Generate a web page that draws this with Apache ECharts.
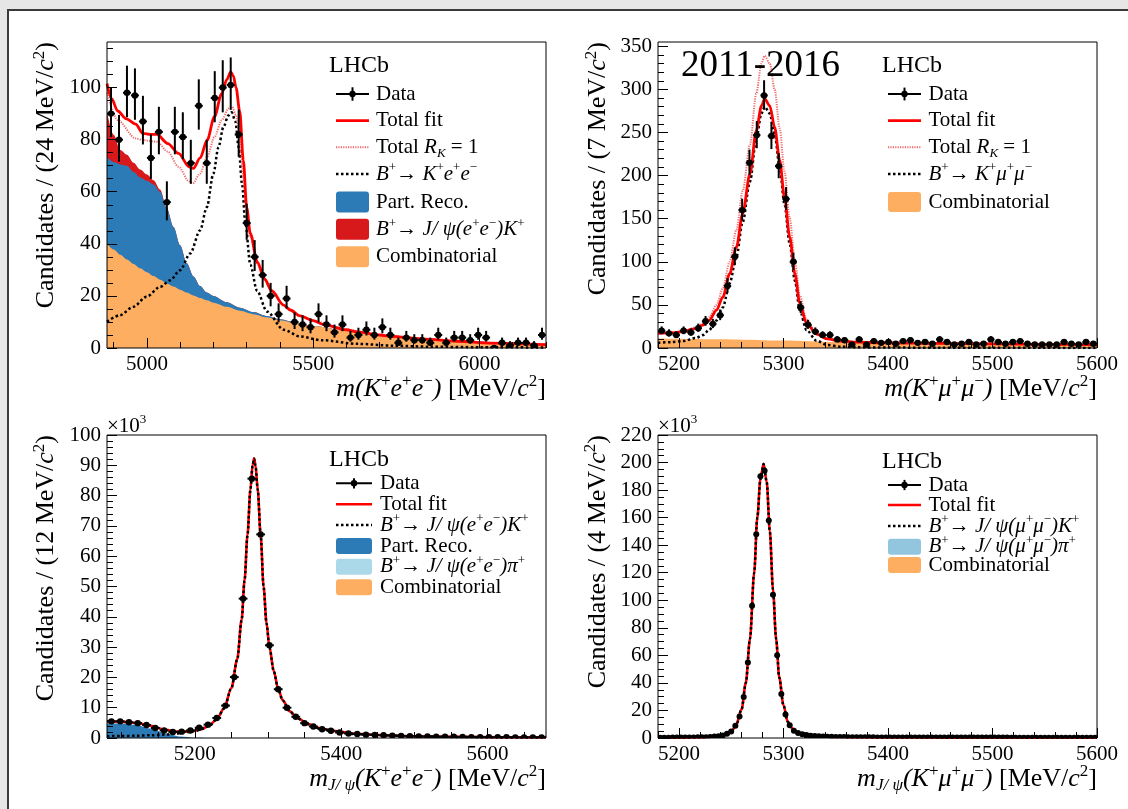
<!DOCTYPE html>
<html>
<head>
<meta charset="utf-8">
<script src="https://cdn.jsdelivr.net/npm/echarts@6.0.0/dist/echarts.min.js"></script>
<style>
  html, body { margin: 0; padding: 0; background: #e6e6e6; }
  #sheet { position: absolute; left: 7px; top: 9px; right: 0; bottom: 0; background: #fff;
           border-left: 2px solid #3a3a3a; border-top: 2px solid #3a3a3a; }
  #chart { position: absolute; left: 0; top: 0; width: 1128px; height: 809px; }
</style>
</head>
<body>
<div id="sheet"></div>
<div id="chart"></div>
<script>
// ---------------- B+ -> K+ e+ e-  (24 MeV bins starting at 4880) ----------------
const keeBinLo = 4880, keeBinW = 24;
const keeCounts = [90,80,98,97,87,73,83,56,83,81,71,93,71,96,100,101,82,48,35,28,
                   20,13,19,10,9,8,13,9,6,9,4,5,7,5,8,5,2,4,3,3,
                   2,5,2,4,4,3,5,4,0,2,1,2,2,1,5];
// background components, sampled on a common mass grid (stacked in drawing order)
const keeBkgMass = [4880,4900,4920,4940,4960,4980,5000,5020,5040,5060,5080,5100,5120,5140,5160,5180,
                    5200,5240,5280,5320,5360,5400,5450,5500,5600,5700,5800,5900,6000,6100,6200];
const keeComb    = [40,37.8,35.8,34,32.3,30.6,29.1,27.6,26.2,24.8,23.6,22.4,21.3,20.2,19.2,18.3,
                    17.4,15.8,14.3,13,11.8,10.7,9.5,8.4,6.6,5.1,4,3.1,2.4,1.8,1.4];
const keePartReco= [33.3,33.6,34.7,36,35.3,34.9,35.1,35.2,33.8,28.7,22.9,17.1,11.2,7.3,4.6,3.0,
                    2.6,1.8,1.2,0.8,0.5,0.3,0.1,0,0,0,0,0,0,0,0];
const keeJpsiLeak= [17.2,10.5,5.5,4.2,3.5,3.0,2.4,1.6,0.8,0.2,0,0,0,0,0,0,
                    0,0,0,0,0,0,0,0,0,0,0,0,0,0,0];
const keeFitMass = [4880,4894,4912,4938,4966,4988,5010,5030,5063,5095,5127,5140,5160,5181,5203,5225,5240,5252,5260,5268,
                    5279,5290,5300,5311,5332,5354,5375,5411,5431,5461,5500,5531,5600,5632,5700,5732,5833,5933,6034,6200];
const keeFit     = [101.5,95.7,91,88,86,82.4,82,82,78.5,74.7,69.6,69,73,79.8,88.8,97.7,103,106,104.5,100,
                    91,72,54,44,33,26.5,22,16.5,14.6,12.3,10.5,9.0,7.0,6.2,5.0,4.5,3.4,2.6,1.9,1.3];
const keeRk1Mass = [4880,4912,4966,4988,5030,5063,5095,5127,5138,5160,5181,5203,5225,5246,5256,5268,
                    5279,5290,5300,5311,5332,5354,5375,5411,5461,5500,5600,5700,5833,5933,6034,6200];
const keeRk1     = [98,87.5,80.5,79.8,79.2,75.4,69.6,63.9,63.2,67,73.4,81,87.5,92,92.6,89.4,
                    81,66,52,43,32,26,21.7,16.2,12.2,10.4,7.0,5.0,3.4,2.6,1.9,1.3];
const keeSigMass = [4880,4919,4959,4999,5040,5070,5100,5130,5160,5180,5200,5215,5230,5245,5255,
                    5266,5276,5286,5296,5311,5331,5361,5411,5461,5525,5633,5740,5848,6000,6200];
const keeSig     = [10.1,12.6,15.8,19.7,23.5,26,29.9,36.3,45.2,54,67,77,84.8,89.3,90.5,
                    87,77,63,48,32,22,14,7,4.4,3.0,1.6,0.9,0.5,0.3,0.2];

// ---------------- B+ -> K+ mu+ mu-  (7 MeV bins starting at 5180) ----------------
const kmmBinLo = 5180, kmmBinW = 7;
const kmmCounts = [20,17,15,20,18,23,31,28,38,72,106,160,215,247,293,246,211,173,100,47,
                   27,19,15,15,10,9,4,10,4,8,6,7,5,8,9,6,7,5,10,7,
                   4,5,7,4,5,10,7,5,7,8,5,4,4,4,4,7,5,4,7,5];
const kmmFitMass = [5180,5192,5204,5216,5223,5229,5236,5242,5248.5,5255,5261,5268,5274,5279,5282,5287,
                    5291.6,5296.4,5301,5306,5311,5315.6,5322,5331.6,5342,5355,5370,5400,5450,5500,5550,5600];
const kmmFit     = [17,17.5,19,22.5,26.5,32,44,59,86,117,156,202,252,281,289,281,
                    256,218,175,129,86,52,29,16.2,10.5,8,6.8,6.0,5.3,4.8,4.3,3.9];
const kmmRk1     = [17,17.6,19.5,24,28.5,36,50,69,100,137,182,236,295,330,339,330,
                    300,255,205,151,101,61,33,17.5,11,8.2,6.9,6.0,5.3,4.8,4.3,3.9];
const kmmSig     = [6,6.8,8,11.5,15,21,32,47,75,106,146,193,243,272,280,272,
                    248,210,167,121,78,44,21,8.5,3.5,1.5,0.8,0.5,0.3,0.2,0.15,0.1];
const kmmCombMass = [5180,5250,5300,5350,5400,5450,5500,5550,5600];
const kmmComb     = [11,10,8.7,7,5.5,5,4.6,4.2,3.8];

// ---------------- B+ -> J/psi(e+e-) K+  (12 MeV bins from 5080, in units of 10^3) ----------------
const jeeBinLo = 5080, jeeBinW = 12;
const jeeCounts = [5.5,5.5,5.2,4.9,4.3,3.3,2.5,2.0,2.1,2.5,3.4,4.4,6.6,10.7,20.1,46.0,85.6,67.2,30.6,16.1,
                   10.0,7.0,4.9,3.8,2.9,2.4,1.8,1.5,1.3,1.1,1.0,0.9,0.8,0.7,0.6,0.55,0.5,0.45,0.4,0.4,
                   0.35,0.3,0.3,0.3,0.25,0.25,0.2,0.2,0.2,0.2];
const jeeFitMass = [5080,5100,5120,5140,5160,5175,5190,5200,5210,5220,5230,5240,5250,5258,5264,5268,5272,5276,5279,5281,
                    5283,5286,5290,5294,5298,5302,5308,5314,5320,5330,5340,5355,5370,5390,5420,5460,5500,5560,5620,5680];
const jeeFit     = [5.5,5.4,5.0,4.0,2.7,2.1,2.1,2.4,3.0,4.2,6.2,9.8,16.5,26,39,52,67,82,90,92.3,
                    90,82,67,50,38,30,22,16.2,12.5,8.8,6.6,4.6,3.3,2.3,1.4,0.9,0.6,0.4,0.25,0.2];
const jeeSig     = [0.6,0.65,0.75,0.9,1.15,1.5,1.95,2.3,2.95,4.15,6.15,9.75,16.4,25.9,38.9,51.9,66.9,81.9,89.9,92.2,
                    89.9,81.9,66.9,49.9,37.9,29.9,21.9,16.1,12.4,8.7,6.5,4.5,3.2,2.2,1.3,0.85,0.55,0.35,0.2,0.15];
const jeePartRecoMass = [5080,5100,5120,5140,5160,5180,5200,5220];
const jeePartReco     = [4.9,4.8,4.3,3.1,1.5,0.5,0.1,0];

// ---------------- B+ -> J/psi(mu+mu-) K+  (4 MeV bins from 5180, in units of 10^3) ----------------
const jmmBinLo = 5180, jmmBinW = 4;
const jmmCounts = [0.2,0.2,0.2,0.3,0.3,0.3,0.3,0.4,0.4,0.5,
                   0.5,0.6,0.8,1.0,1.3,1.9,3.1,4.8,8.9,15.7,
                   29.7,54.8,96,148,190,194,158,104,60,32,
                   17,9.3,5.3,3.6,2.7,2.1,1.7,1.4,1.2,1.0,
                   0.9,0.9,0.8,0.7,0.7,0.6,0.6,0.5,0.5,0.5,
                   0.5,0.5,0.4,0.4,0.4,0.4,0.4,0.4,0.4,0.4,
                   0.3,0.3,0.3,0.3,0.3,0.3,0.3,0.3,0.3,0.3,
                   0.3,0.3,0.3,0.3,0.3,0.3,0.3,0.3,0.3,0.3,
                   0.3,0.3,0.3,0.3,0.2,0.2,0.2,0.2,0.2,0.2,
                   0.2,0.2,0.2,0.2,0.2,0.2,0.2,0.2,0.2,0.2,
                   0.2,0.2,0.2,0.2,0.2];
const jmmFitMass = [5180,5200,5220,5235,5245,5250,5255,5260,5264,5268,5272,5275,5278,5281,5284,
                    5287,5290,5293,5296,5300,5304,5308,5313,5320,5330,5345,5370,5420,5500,5600];
const jmmFit     = [0.2,0.3,0.55,1.1,2.6,4.5,10,21,40,72,120,160,188,199,186,
                    150,108,72,44,24,12,7.2,4.0,2.4,1.4,0.85,0.55,0.35,0.25,0.2];
const jmmSig     = [0.15,0.25,0.5,1.05,2.55,4.45,9.9,20.9,39.9,71.9,119.9,159.9,187.9,198.9,185.9,
                    149.9,107.9,71.9,43.9,23.9,11.9,7.1,3.9,2.3,1.3,0.8,0.5,0.3,0.2,0.15];

// ---------------- axis ticks ----------------
function range(a, b, s) { const r = []; for (let v = a; v <= b + 1e-9; v += s) r.push(+v.toFixed(6)); return r; }
const keeXMajor = [5000, 5500, 6000],            keeXMinor = range(4900, 6200, 100);
const keeYMajor = [0, 20, 40, 60, 80, 100],      keeYMinor = range(0, 115, 5);
const kmmXMajor = [5200, 5300, 5400, 5500, 5600], kmmXMinor = range(5180, 5600, 20);
const kmmYMajor = range(0, 350, 50),             kmmYMinor = range(0, 350, 10);
const jeeXMajor = [5200, 5400, 5600],            jeeXMinor = range(5100, 5650, 50);
const jeeYMajor = range(0, 100, 10),             jeeYMinor = range(0, 100, 2);
const jmmXMajor = [5200, 5300, 5400, 5500, 5600], jmmXMinor = range(5180, 5600, 20);
const jmmYMajor = range(0, 220, 20),             jmmYMinor = range(0, 220, 5);

// ---------------- styling ----------------
const F = '"Liberation Serif", "Times New Roman", serif';
const C_COMB = '#fdae61', C_PART = '#2c7bb6', C_LEAK = '#d7191c', C_PI_EE = '#abd9e9', C_PI_MM = '#92c5de';
const C_FIT = '#ff0000', C_RK = '#f06a6a';
const DOT = [2.5, 2.5];
const TITLE = 26;

const panels = [
  { grid: { left: 107, top: 42, width: 439, height: 306 }, x: [4880, 6200], y: [0, 117.5],
    xMaj: keeXMajor, xMin: keeXMinor, yMaj: keeYMajor, yMin: keeYMinor },
  { grid: { left: 658, top: 42, width: 439, height: 306 }, x: [5180, 5600], y: [0, 355],
    xMaj: kmmXMajor, xMin: kmmXMinor, yMaj: kmmYMajor, yMin: kmmYMinor },
  { grid: { left: 107, top: 435, width: 439, height: 303 }, x: [5080, 5680], y: [0, 100],
    xMaj: jeeXMajor, xMin: jeeXMinor, yMaj: jeeYMajor, yMin: jeeYMinor },
  { grid: { left: 658, top: 435, width: 439, height: 303 }, x: [5180, 5600], y: [0, 220],
    xMaj: jmmXMajor, xMin: jmmXMinor, yMaj: jmmYMajor, yMin: jmmYMinor }
];

const labelStyle = { color: '#000', fontFamily: F, fontSize: 21, formatter: v => String(v) };
const xAxes = [], yAxes = [];
panels.forEach((p, k) => {
  const common = { type: 'value', gridIndex: k, z: 6, axisLine: { show: false }, splitLine: { show: false } };
  xAxes.push(Object.assign({}, common, { position: 'bottom', min: p.x[0], max: p.x[1],
    axisTick: { show: true, inside: true, length: 10, lineStyle: { color: '#000', width: 1 }, customValues: p.xMaj },
    axisLabel: Object.assign({ show: true, margin: 6, customValues: p.xMaj }, labelStyle) }));
  xAxes.push(Object.assign({}, common, { position: 'bottom', min: p.x[0], max: p.x[1],
    axisTick: { show: true, inside: true, length: 6, lineStyle: { color: '#000', width: 1 }, customValues: p.xMin },
    axisLabel: { show: false } }));
  yAxes.push(Object.assign({}, common, { position: 'left', min: p.y[0], max: p.y[1],
    axisTick: { show: true, inside: true, length: 10, lineStyle: { color: '#000', width: 1 }, customValues: p.yMaj },
    axisLabel: Object.assign({ show: true, margin: 6, customValues: p.yMaj }, labelStyle) }));
  yAxes.push(Object.assign({}, common, { position: 'left', min: p.y[0], max: p.y[1],
    axisTick: { show: true, inside: true, length: 6, lineStyle: { color: '#000', width: 1 }, customValues: p.yMin },
    axisLabel: { show: false } }));
});

// ---------------- series helpers ----------------
function pairs(xs, ys) { return xs.map((x, i) => [x, ys[i]]); }
// running sum of several component arrays (for filled, stacked bands)
function cumulative(...parts) { return parts[0].map((_, i) => parts.reduce((s, p) => s + p[i], 0)); }

// binned points with Poisson error bars; scale converts axis units to event counts
function binned(lo, w, vals, scale) {
  return vals.map((v, i) => {
    const s = Math.sqrt(v * scale + 0.25);
    return [lo + w * (i + 0.5), v, v - (s - 0.5) / scale, v + (s + 0.5) / scale, w / 2];
  });
}

function curve(k, xs, ys, color, width, dash, z) {
  return { type: 'line', xAxisIndex: 2 * k, yAxisIndex: 2 * k, data: pairs(xs, ys), symbol: 'none',
           smooth: 0.3, smoothMonotone: 'x', silent: true, clip: true, z: z,
           lineStyle: { color: color, width: width, type: dash || 'solid' } };
}
function area(k, xs, ys, color, z) {
  return { type: 'line', xAxisIndex: 2 * k, yAxisIndex: 2 * k, data: pairs(xs, ys), symbol: 'none',
           smooth: 0.3, smoothMonotone: 'x', silent: true, clip: true, z: z,
           lineStyle: { width: 0, color: color }, areaStyle: { color: color, opacity: 1, origin: 'start' } };
}
function points(k, pts, r) {
  return { type: 'custom', xAxisIndex: 2 * k, yAxisIndex: 2 * k, data: pts, silent: true, clip: true, z: 9,
    renderItem: function (params, api) {
      const x = api.value(0), y = api.value(1), lo = api.value(2), hi = api.value(3), hw = api.value(4);
      const c = api.coord([x, y]), t = api.coord([x, hi]), b = api.coord([x, lo]);
      const l = api.coord([x - hw, y]), rr = api.coord([x + hw, y]);
      const st = { stroke: '#000', lineWidth: 2 };
      return { type: 'group', children: [
        { type: 'line', shape: { x1: c[0], y1: t[1], x2: c[0], y2: b[1] }, style: st },
        { type: 'line', shape: { x1: l[0], y1: c[1], x2: rr[0], y2: c[1] }, style: st },
        { type: 'circle', shape: { cx: c[0], cy: c[1], r: r }, style: { fill: '#000' } }
      ] };
    } };
}

const series = [
  // K+ e+ e-: bands drawn from the outermost (largest sum) inwards
  area(0, keeBkgMass, cumulative(keeComb, keePartReco, keeJpsiLeak), C_LEAK, 2),
  area(0, keeBkgMass, cumulative(keeComb, keePartReco), C_PART, 2),
  area(0, keeBkgMass, keeComb, C_COMB, 2),
  curve(0, keeSigMass, keeSig, '#000', 2.5, DOT, 3),
  curve(0, keeRk1Mass, keeRk1, C_RK, 2, [1.2, 1.2], 3),
  curve(0, keeFitMass, keeFit, C_FIT, 2.8, null, 4),
  points(0, binned(keeBinLo, keeBinW, keeCounts, 1), 3.2),
  // K+ mu+ mu-
  area(1, kmmCombMass, kmmComb, C_COMB, 2),
  curve(1, kmmFitMass, kmmSig, '#000', 2.5, DOT, 3),
  curve(1, kmmFitMass, kmmRk1, C_RK, 2, [1.2, 1.2], 3),
  curve(1, kmmFitMass, kmmFit, C_FIT, 2.8, null, 4),
  points(1, binned(kmmBinLo, kmmBinW, kmmCounts, 1), 3.2),
  // J/psi(e+e-) K+
  area(2, jeePartRecoMass, jeePartReco, C_PART, 2),
  curve(2, jeeFitMass, jeeFit, C_FIT, 2.6, null, 3),
  curve(2, jeeFitMass, jeeSig, '#000', 2.5, DOT, 4),
  points(2, binned(jeeBinLo, jeeBinW, jeeCounts, 1000), 3.2),
  // J/psi(mu+mu-) K+
  curve(3, jmmFitMass, jmmFit, C_FIT, 2.6, null, 3),
  curve(3, jmmFitMass, jmmSig, '#000', 2.5, DOT, 4),
  points(3, binned(jmmBinLo, jmmBinW, jmmCounts, 1000), 3.0)
];

// ---------------- text and legends ----------------
function richStyles(size) {
  const lh = Math.round(size * 1.2), small = Math.round(size * 0.64);
  return {
    r:    { fontFamily: F, fontSize: size, lineHeight: lh, fill: '#000' },
    i:    { fontFamily: F, fontSize: size, lineHeight: lh, fontStyle: 'italic', fill: '#000' },
    sup:  { fontFamily: F, fontSize: small, lineHeight: small, verticalAlign: 'top', fill: '#000' },
    sub:  { fontFamily: F, fontSize: small, lineHeight: small, verticalAlign: 'bottom', fontStyle: 'italic', fill: '#000' }
  };
}
function text(x, y, str, size, align, rotation) {
  return { type: 'text', x: x, y: y, rotation: rotation || 0, silent: true, z: 20,
    style: { text: str, rich: richStyles(size), fontFamily: F, fontSize: size, fill: '#000',
             align: align || 'left', textAlign: align || 'left', verticalAlign: 'middle', textVerticalAlign: 'middle' } };
}
function keyLine(x1, x2, y, color, width, dash) {
  return { type: 'line', silent: true, z: 20, shape: { x1: x1, y1: y, x2: x2, y2: y },
           style: { stroke: color, lineWidth: width, lineDash: dash || null } };
}
function keyBox(x1, x2, y, h, color) {
  return { type: 'rect', silent: true, z: 20, shape: { x: x1, y: y - h / 2, width: x2 - x1, height: h, r: 3 },
           style: { fill: color } };
}
function keyData(x1, x2, y, bar) {
  const cx = (x1 + x2) / 2;
  return [keyLine(x1, x2, y, '#000', 2),
          { type: 'line', silent: true, z: 20, shape: { x1: cx, y1: y - bar, x2: cx, y2: y + bar }, style: { stroke: '#000', lineWidth: 2 } },
          { type: 'circle', silent: true, z: 20, shape: { cx: cx, cy: y, r: 3.2 }, style: { fill: '#000' } }];
}
function legend(ix1, ix2, tx, rows, boxH, size) {
  const out = [];
  rows.forEach(row => {
    if (row.kind === 'data') out.push(...keyData(ix1, ix2, row.y, boxH * 0.32));
    else if (row.kind === 'line') out.push(keyLine(ix1, ix2, row.y, row.color, row.width, row.dash));
    else out.push(keyBox(ix1, ix2, row.y, boxH, row.color));
    out.push(text(tx, row.y, row.label, size));
  });
  return out;
}

const L_TOTRK = '{r|Total }{i|R}{sub|K}{r| = 1}';
const L_KEE   = '{i|B}{sup|+}{r|→ }{i|K}{sup|+}{i|e}{sup|+}{i|e}{sup|−}';
const L_KMM   = '{i|B}{sup|+}{r|→ }{i|K}{sup|+}{i|μ}{sup|+}{i|μ}{sup|−}';
const L_JEEK  = '{i|B}{sup|+}{r|→ }{i|J/ ψ(e}{sup|+}{i|e}{sup|−}{i|)K}{sup|+}';
const L_JEEPI = '{i|B}{sup|+}{r|→ }{i|J/ ψ(e}{sup|+}{i|e}{sup|−}{i|)π}{sup|+}';
const L_JMMK  = '{i|B}{sup|+}{r|→ }{i|J/ ψ(μ}{sup|+}{i|μ}{sup|−}{i|)K}{sup|+}';
const L_JMMPI = '{i|B}{sup|+}{r|→ }{i|J/ ψ(μ}{sup|+}{i|μ}{sup|−}{i|)π}{sup|+}';

const graphics = [].concat(
  // panel titles and axis names
  text(329, 66, 'LHCb', 24), text(882, 66, 'LHCb', 24), text(329, 460, 'LHCb', 24), text(882, 462, 'LHCb', 24),
  text(681, 66, '2011-2016', 37),
  text(46.5, 42, '{r|Candidates / (24 MeV/}{i|c}{sup|2}{r|)}', TITLE, 'right', Math.PI / 2),
  text(598.5, 42, '{r|Candidates / (7 MeV/}{i|c}{sup|2}{r|)}', TITLE, 'right', Math.PI / 2),
  text(46.5, 435, '{r|Candidates / (12 MeV/}{i|c}{sup|2}{r|)}', TITLE, 'right', Math.PI / 2),
  text(598, 435, '{r|Candidates / (4 MeV/}{i|c}{sup|2}{r|)}', TITLE, 'right', Math.PI / 2),
  text(546, 389, '{i|m(K}{sup|+}{i|e}{sup|+}{i|e}{sup|−}{i|)}{r| [MeV/}{i|c}{sup|2}{r|]}', TITLE, 'right'),
  text(1097, 389, '{i|m(K}{sup|+}{i|μ}{sup|+}{i|μ}{sup|−}{i|)}{r| [MeV/}{i|c}{sup|2}{r|]}', TITLE, 'right'),
  text(546, 779, '{i|m}{sub|J/ ψ}{i|(K}{sup|+}{i|e}{sup|+}{i|e}{sup|−}{i|)}{r| [MeV/}{i|c}{sup|2}{r|]}', TITLE, 'right'),
  text(1097, 779, '{i|m}{sub|J/ ψ}{i|(K}{sup|+}{i|μ}{sup|+}{i|μ}{sup|−}{i|)}{r| [MeV/}{i|c}{sup|2}{r|]}', TITLE, 'right'),
  text(107, 426, '{r|×10}{sup|3}', 21), text(658, 426, '{r|×10}{sup|3}', 21),
  // legends
  legend(336, 369, 376, [
    { y: 94, kind: 'data', label: 'Data' },
    { y: 120.7, kind: 'line', color: C_FIT, width: 2.8, label: 'Total fit' },
    { y: 147.3, kind: 'line', color: C_RK, width: 2, dash: [1.2, 1.2], label: L_TOTRK },
    { y: 174, kind: 'line', color: '#000', width: 2.5, dash: DOT, label: L_KEE },
    { y: 202, kind: 'box', color: C_PART, label: 'Part. Reco.' },
    { y: 229.3, kind: 'box', color: C_LEAK, label: L_JEEK },
    { y: 256.7, kind: 'box', color: C_COMB, label: 'Combinatorial' }
  ], 21, 21),
  legend(888, 921, 928.5, [
    { y: 94, kind: 'data', label: 'Data' },
    { y: 120.7, kind: 'line', color: C_FIT, width: 2.8, label: 'Total fit' },
    { y: 147.3, kind: 'line', color: C_RK, width: 2, dash: [1.2, 1.2], label: L_TOTRK },
    { y: 174, kind: 'line', color: '#000', width: 2.5, dash: DOT, label: L_KMM },
    { y: 202, kind: 'box', color: C_COMB, label: 'Combinatorial' }
  ], 20, 21),
  legend(336, 372, 380, [
    { y: 483.3, kind: 'data', label: 'Data' },
    { y: 504.3, kind: 'line', color: C_FIT, width: 2.6, label: 'Total fit' },
    { y: 525, kind: 'line', color: '#000', width: 2.5, dash: DOT, label: L_JEEK },
    { y: 546, kind: 'box', color: C_PART, label: 'Part. Reco.' },
    { y: 566.7, kind: 'box', color: C_PI_EE, label: L_JEEPI },
    { y: 587.3, kind: 'box', color: C_COMB, label: 'Combinatorial' }
  ], 16, 21),
  legend(888, 921, 928.5, [
    { y: 485, kind: 'data', label: 'Data' },
    { y: 505, kind: 'line', color: C_FIT, width: 2.6, label: 'Total fit' },
    { y: 526, kind: 'line', color: '#000', width: 2.5, dash: DOT, label: L_JMMK },
    { y: 546.7, kind: 'box', color: C_PI_MM, label: L_JMMPI },
    { y: 565, kind: 'box', color: C_COMB, label: 'Combinatorial' }
  ], 16, 21)
);

const chart = echarts.init(document.getElementById('chart'), null, { renderer: 'canvas' });
chart.setOption({
  animation: false,
  grid: panels.map(p => Object.assign({ show: true, borderColor: '#000', borderWidth: 1,
                                        backgroundColor: 'transparent', z: 5 }, p.grid)),
  xAxis: xAxes,
  yAxis: yAxes,
  series: series,
  graphic: { elements: graphics }
});
</script>
</body>
</html>
